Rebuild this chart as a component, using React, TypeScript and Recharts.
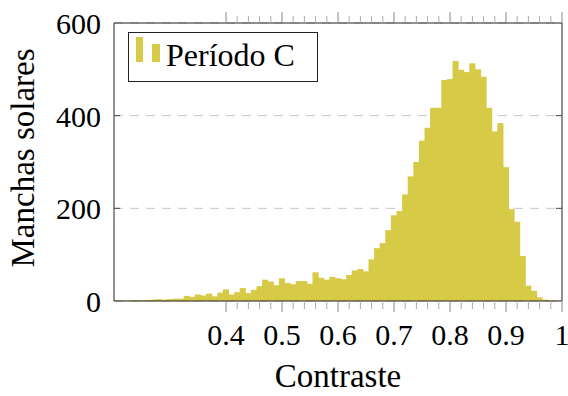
import React from "react";
import {Bar, CartesianGrid, ComposedChart, Legend, Line, XAxis, YAxis} from "recharts";

// contrast bins (bar centres) and sunspot counts, Period C
const bins = [
    0.20, 0.21, 0.22, 0.23, 0.24, 0.25, 0.26, 0.27, 0.28, 0.29,
    0.30, 0.31, 0.32, 0.33, 0.34, 0.35, 0.36, 0.37, 0.38, 0.39,
    0.40, 0.41, 0.42, 0.43, 0.44, 0.45, 0.46, 0.47, 0.48, 0.49,
    0.50, 0.51, 0.52, 0.53, 0.54, 0.55, 0.56, 0.57, 0.58, 0.59,
    0.60, 0.61, 0.62, 0.63, 0.64, 0.65, 0.66, 0.67, 0.68, 0.69,
    0.70, 0.71, 0.72, 0.73, 0.74, 0.75, 0.76, 0.77, 0.78, 0.79,
    0.80, 0.81, 0.82, 0.83, 0.84, 0.85, 0.86, 0.87, 0.88, 0.89,
    0.90, 0.91, 0.92, 0.93, 0.94, 0.95, 0.96, 0.97, 0.98, 0.99,
];
const counts = [
    1, 1, 1, 1, 2, 2, 2, 3, 4, 3,
    4, 5, 5, 11, 9, 14, 12, 16, 10, 18,
    25, 14, 19, 28, 17, 24, 32, 46, 42, 34,
    49, 39, 36, 43, 43, 37, 62, 50, 46, 52,
    49, 47, 56, 66, 69, 64, 90, 114, 125, 153,
    185, 194, 230, 269, 300, 346, 374, 417, 417, 477,
    479, 518, 499, 494, 513, 500, 484, 417, 366, 384,
    289, 198, 171, 97, 33, 22, 8, 3, 1, 1,
];

const xMajorTicks = [0.4, 0.5, 0.6, 0.7, 0.8, 0.9, 1];
const xMinorTicks = [
    0.42, 0.44, 0.46, 0.48, 0.52, 0.54, 0.56, 0.58, 0.62, 0.64, 0.66, 0.68,
    0.72, 0.74, 0.76, 0.78, 0.82, 0.84, 0.86, 0.88, 0.92, 0.94, 0.96, 0.98,
];
const yTicks = [0, 200, 400, 600];
const yInnerTicks = [200, 400];
const seriesName = "Período C";

const data = bins.map((c, i) => ({contraste: c, manchas: counts[i]}));
const xTicks = [...xMajorTicks, ...xMinorTicks];

const FONT = "'Liberation Serif', 'Times New Roman', serif";
const BAR = "#d7ca46";

const BottomTick = (p: any) => {
    const v = p.payload.value;
    const major = xMajorTicks.includes(v);
    return <g>
        <line x1={p.x} x2={p.x} y1={p.y} y2={p.y + (major ? 11 : 8)} stroke={major ? "#888" : "#aaa"}/>
        {major && <text x={p.x} y={p.y + 44} textAnchor="middle" fontFamily={FONT} fontSize={30}
                        fill="#000">{String(v)}</text>}
    </g>;
};

const TopTick = (p: any) => {
    const major = xMajorTicks.includes(p.payload.value);
    return <line x1={p.x} x2={p.x} y1={p.y} y2={p.y - (major ? 11 : 7)} stroke={major ? "#888" : "#aaa"}/>;
};

const LeftTick = (p: any) => {
    const v = p.payload.value;
    return <g>
        {yInnerTicks.includes(v) && <line x1={p.x} x2={p.x + 6} y1={p.y} y2={p.y} stroke="#444"/>}
        <text x={p.x - 13} y={p.y + 11} textAnchor="end" fontFamily={FONT} fontSize={30} fill="#000">{v}</text>
    </g>;
};

const RightTick = (p: any) =>
    <line x1={p.x - 6} x2={p.x} y1={p.y} y2={p.y} stroke="#444"/>;

// widen each bar a touch so neighbouring bins touch like a histogram
const HistBar = (p: any) =>
    <rect x={p.x - 0.3} y={p.y} width={p.width + 1.1} height={Math.max(p.height, 0)} fill={BAR}/>;

const LegendBox = () => <svg width={190} height={50}>
    <rect x={0.5} y={0.5} width={189} height={49} fill="#fff" stroke="#222"/>
    <rect x={8} y={5} width={7} height={25} fill={BAR}/>
    <rect x={24} y={12} width={8} height={18} fill={BAR}/>
    <text x={38} y={34} fontFamily={FONT} fontSize={32} fill="#000">{seriesName}</text>
</svg>;

export default function App() {
    return <div style={{position: "absolute", left: 0, top: 0}}>
        <ComposedChart width={568} height={396} data={data} barCategoryGap={0} barGap={0}
                       margin={{top: 22, right: 5, left: 113, bottom: 94}}>
            <CartesianGrid vertical={false} stroke="#c4c4c4" strokeDasharray="9 7"/>
            <XAxis dataKey="contraste" type="number" domain={[0.2, 1]} allowDataOverflow ticks={xTicks}
                   interval={0} height={1} tickSize={0} tickMargin={0} tickLine={false}
                   axisLine={{stroke: "#222"}} tick={BottomTick}
                   label={{
                       content: (l: any) => <text x={l.viewBox.x + l.viewBox.width / 2} y={l.viewBox.y + 86}
                                                  textAnchor="middle" fontFamily={FONT} fontSize={33}
                                                  fill="#000">Contraste</text>
                   }}/>
            <XAxis xAxisId="t" orientation="top" dataKey="contraste" type="number" domain={[0.2, 1]}
                   allowDataOverflow ticks={xTicks} interval={0} height={1} tickSize={0} tickMargin={0}
                   tickLine={false} axisLine={{stroke: "#222"}} tick={TopTick}/>
            <YAxis type="number" domain={[0, 600]} ticks={yTicks} interval={0} width={1} tickSize={0}
                   tickMargin={0} tickLine={false} axisLine={{stroke: "#222"}} tick={LeftTick}
                   label={{
                       content: (l: any) => {
                           const cx = l.viewBox.x - 79;
                           const cy = l.viewBox.y + l.viewBox.height / 2 - 4;
                           return <text x={cx} y={cy} transform={`rotate(-90 ${cx} ${cy})`} textAnchor="middle"
                                        fontFamily={FONT} fontSize={33} fill="#000">Manchas solares</text>;
                       }
                   }}/>
            <YAxis yAxisId="r" orientation="right" type="number" domain={[0, 600]} ticks={yInnerTicks}
                   interval={0} width={1} tickSize={0} tickMargin={0} tickLine={false}
                   axisLine={{stroke: "#222"}} tick={RightTick}/>
            <Bar dataKey="manchas" name={seriesName} fill={BAR} barSize={5.6} shape={HistBar}
                 isAnimationActive={false}/>
            <Line xAxisId="t" yAxisId="r" dataKey="manchas" stroke="none" dot={false} activeDot={false}
                  legendType="none" isAnimationActive={false}/>
            <Legend layout="horizontal" verticalAlign="middle" align="center" content={LegendBox}
                    wrapperStyle={{left: 128, top: 32, width: 190, height: 50}}/>
        </ComposedChart>
    </div>;
}
